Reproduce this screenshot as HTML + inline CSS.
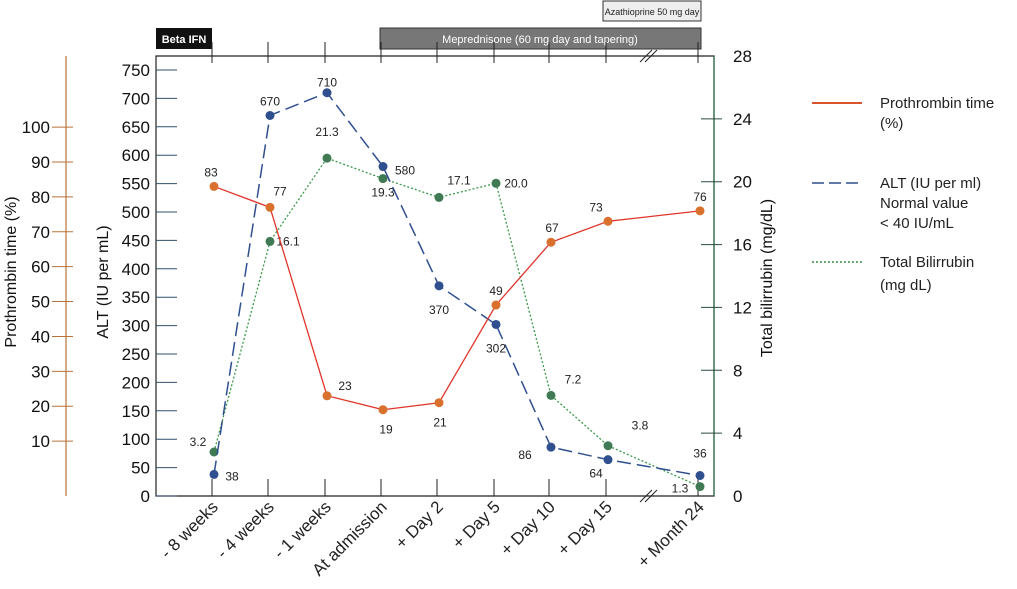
<!DOCTYPE html>
<html><head><meta charset="utf-8"><style>
body{margin:0;background:#fff;}
svg{display:block;font-family:"Liberation Sans",sans-serif;}
</style></head><body>
<svg id="chart" width="1017" height="589" viewBox="0 0 1017 589">
<g>
<rect x="156" y="28" width="56" height="21" fill="#111"/>
<text x="184" y="43" font-size="11" fill="#fff" text-anchor="middle" font-weight="bold">Beta IFN</text>
<rect x="380" y="28" width="321" height="21" fill="#777" stroke="#333"/>
<text x="540" y="43" font-size="11" fill="#fff" text-anchor="middle">Meprednisone (60 mg day and tapering)</text>
<rect x="603" y="1" width="98" height="20" fill="#eee" stroke="#333"/>
<text x="652" y="15" font-size="9" fill="#222" text-anchor="middle">Azathioprine 50 mg day</text>
</g>
<g id="axes"></g>
<g id="series"></g>
<g font-size="15" fill="#222">
<line x1="812" y1="103" x2="862" y2="103" stroke="#d9532b" stroke-width="2"/>
<text x="880" y="108">Prothrombin time</text>
<text x="880" y="128">(%)</text>
<line x1="812" y1="183" x2="862" y2="183" stroke="#2f4f8f" stroke-width="1.5" stroke-dasharray="12,5"/>
<text x="880" y="188">ALT (IU per ml)</text>
<text x="880" y="208">Normal value</text>
<text x="880" y="228">&lt; 40 IU/mL</text>
<line x1="812" y1="262" x2="862" y2="262" stroke="#3a8a4a" stroke-width="1.5" stroke-dasharray="2,2"/>
<text x="880" y="267">Total Bilirrubin</text>
<text x="880" y="290">(mg dL)</text>
</g>
</svg>
<script>
const categories=["- 8 weeks","- 4 weeks","- 1 weeks","At admission","+ Day 2","+ Day 5","+ Day 10","+ Day 15","+ Month 24"];
const prothrombin=[83,77,23,19,21,49,67,73,76];
const alt=[38,670,710,580,370,302,86,64,36];
const bilirubin=[2.8,16.2,21.5,20.2,19.0,19.9,6.4,3.2,0.6];
const bilirubinLabels=["3.2","16.1","21.3","19.3","17.1","20.0","7.2","3.8","1.3"];
const altTicks=[0,50,100,150,200,250,300,350,400,450,500,550,600,650,700,750];
const ptTicks=[10,20,30,40,50,60,70,80,90,100];
const biliTicks=[0,4,8,12,16,20,24,28];

const NS="http://www.w3.org/2000/svg";
const catX=[212,268,325,381,437,494,549,606,698];
const X=i=>catX[i]+2;
const yAlt=v=>496-v*426/750;
const yBili=v=>496-v*440/28;
const yPt=v=>476-v*314/90;
function el(tag,attrs,parent,text){const e=document.createElementNS(NS,tag);for(const k in attrs)e.setAttribute(k,attrs[k]);if(text!==undefined)e.textContent=text;parent.appendChild(e);return e;}
const ax=document.getElementById('axes'), se=document.getElementById('series');
let f=el('path',{d:"M156 56 H714 V496 H156 Z",fill:"none",stroke:"#222","stroke-width":1.2},ax);


el('line',{x1:714,y1:56,x2:714,y2:496,stroke:"#2a6a4a","stroke-width":1.2},ax);
el('path',{d:"M640 62 L652 50 M645 62 L657 50 M640 502 L652 490 M645 502 L657 490",stroke:"#222",fill:"none"},ax);
categories.forEach((c,i)=>{
 el('line',{x1:catX[i],y1:42,x2:catX[i],y2:63,stroke:"#222"},ax);
 el('line',{x1:catX[i],y1:479,x2:catX[i],y2:496,stroke:"#222"},ax);
 const t=el('text',{x:catX[i]+7,y:508,"font-size":17,"text-anchor":"end",fill:"#222",transform:`rotate(-45 ${catX[i]+7} 508)`},ax,c);
 
 
});
altTicks.forEach(v=>{const y=yAlt(v);
 el('line',{x1:156,y1:y,x2:177,y2:y,stroke:"#2f4f6f"},ax);
 const t=el('text',{x:150,y:y+6,"font-size":17,"text-anchor":"end",fill:"#111"},ax,v);
 
 
});
biliTicks.forEach(v=>{const y=yBili(v);
 if(v>0&&v<28) el('line',{x1:701,y1:y,x2:722,y2:y,stroke:"#2a4a3a"},ax);
 const t=el('text',{x:733,y:y+6,"font-size":17,fill:"#111"},ax,v);
 
 
});
el('line',{x1:66,y1:56,x2:66,y2:496,stroke:"#b8733a","stroke-width":1.2},ax);
ptTicks.forEach(v=>{const y=yPt(v);
 el('line',{x1:52,y1:y,x2:73,y2:y,stroke:"#b8733a"},ax);
 const t=el('text',{x:50,y:y+6,"font-size":17,"text-anchor":"end",fill:"#111"},ax,v);
 
 
});
let t1=el('text',{x:16,y:272,"font-size":16,"text-anchor":"middle",fill:"#111",transform:"rotate(-90 16 272)"},ax,"Prothrombin time (%)");


let t2=el('text',{x:108,y:282,"font-size":16,"text-anchor":"middle",fill:"#111",transform:"rotate(-90 108 282)"},ax,"ALT (IU per mL)");


let t3=el('text',{x:772,y:278,"font-size":16,"text-anchor":"middle",fill:"#111",transform:"rotate(-90 772 278)"},ax,"Total bilirrubin (mg/dL)");


function series(vals,yf,color,dash,w,name,mcolor,labels,offs){
 const p=el('polyline',{points:vals.map((v,i)=>X(i)+","+yf(v)).join(" "),fill:"none",stroke:color,"stroke-width":w,"stroke-dasharray":dash},se);
 
 
 vals.forEach((v,i)=>{
  const c=el('circle',{cx:X(i),cy:yf(v),r:4.5,fill:mcolor},se);
  
  
  const t=el('text',{x:X(i)+offs[i][0],y:yf(v)+offs[i][1],"font-size":12,"text-anchor":"middle",fill:"#222"},se,labels[i]);
  
  
 });
}
series(bilirubin,yBili,"#3a9a4a","2,2",1.3,"bilirubin","#3f7a55",bilirubinLabels,
 [[-16,-6],[18,4],[0,-22],[0,18],[20,-13],[20,4],[22,-12],[32,-16],[-20,6]]);
series(alt,yAlt,"#2f4f8f","14,6",1.5,"alt","#2f4f8f",alt.map(String),
 [[18,6],[0,-10],[0,-6],[22,8],[0,28],[0,28],[-26,12],[-12,18],[0,-18]]);
series(prothrombin,yPt,"#e0352a","",1.3,"prothrombin","#d9702e",prothrombin.map(String),
 [[-3,-10],[10,-12],[18,-6],[3,24],[1,24],[0,-10],[1,-10],[-12,-10],[0,-10]]);
</script>
</body></html>
